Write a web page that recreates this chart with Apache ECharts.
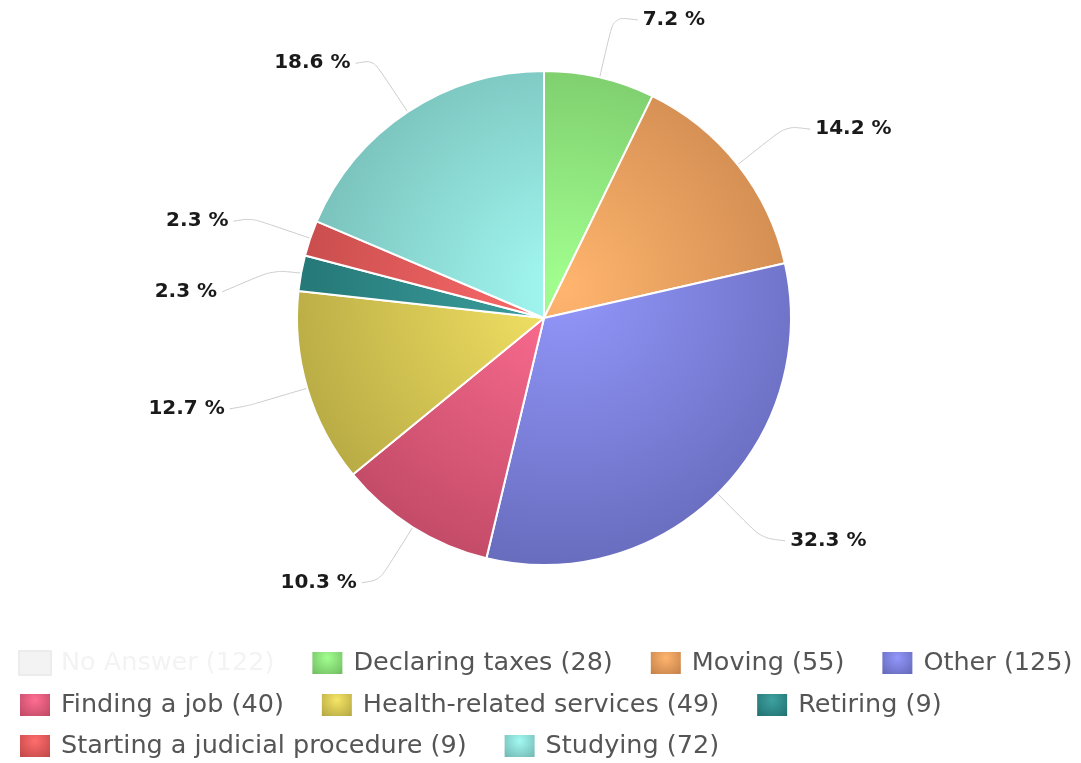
<!DOCTYPE html>
<html>
<head>
<meta charset="utf-8">
<script src="https://cdn.jsdelivr.net/npm/echarts@6/dist/echarts.min.js"></script>
<style>
  html, body { margin: 0; padding: 0; background: #fff; }
  #chart { width: 1081px; height: 763px; }
</style>
</head>
<body>
<div id="chart"></div>
<script>
// Reasons given by respondents (counts)
const categories = [
  'No Answer', 'Declaring taxes', 'Moving', 'Other', 'Finding a job',
  'Health-related services', 'Retiring', 'Starting a judicial procedure', 'Studying'
];
const counts = [122, 28, 55, 125, 40, 49, 9, 9, 72];
const colors = [
  '#7cb5ec', '#90ed7d', '#f7a35c', '#8085e9', '#f15c80',
  '#e4d354', '#2b908f', '#f45b5b', '#91e8e1'
];
// Legend rows
const legendRows = [
  ['No Answer', 'Declaring taxes', 'Moving', 'Other'],
  ['Finding a job', 'Health-related services', 'Retiring'],
  ['Starting a judicial procedure', 'Studying']
];
// "No Answer" is switched off in the legend and left out of the pie
const hidden = ['No Answer'];

function rgb(hex) {
  const n = parseInt(hex.slice(1), 16);
  return [(n >> 16) & 255, (n >> 8) & 255, n & 255];
}
function lighten(hex, amt) {
  return 'rgb(' + rgb(hex).map(v => Math.min(255, Math.round(v + 255 * amt))).join(',') + ')';
}
function scale(hex, k) {
  return 'rgb(' + rgb(hex).map(v => Math.round(v * k)).join(',') + ')';
}

const CX = 544, CY = 318, R = 247;

function stops(col) {
  return [
    { offset: 0, color: lighten(col, 0.07) },
    { offset: 1, color: scale(col, 0.8) }
  ];
}
function sliceFill(col) {
  return { type: 'radial', x: CX + 20, y: CY - 30, r: R * 1.2, global: true, colorStops: stops(col) };
}
function iconFill(col) {
  return { type: 'radial', x: 0.5, y: 0.3, r: 0.8, colorStops: stops(col) };
}

const visibleTotal = counts.reduce((s, v, i) => hidden.includes(categories[i]) ? s : s + v, 0);

const pieData = categories.map((name, i) => ({
  name: name,
  value: counts[i],
  itemStyle: { color: sliceFill(colors[i]) }
}));

const selected = {};
hidden.forEach(n => { selected[n] = false; });

const rowTops = [645, 687, 728];
const legends = legendRows.map((row, r) => ({
  data: row.map(name => ({
    name: name,
    itemStyle: { color: iconFill(colors[categories.indexOf(name)]) }
  })),
  selected: selected,
  orient: 'horizontal',
  left: 13,
  top: rowTops[r],
  itemWidth: 32,
  itemHeight: 24,
  itemGap: 36,
  icon: 'rect',
  inactiveColor: '#f3f3f3',
  inactiveBorderColor: '#ececec',
  textStyle: { fontSize: 25.5, color: '#555', padding: [0, 0, 0, 5], fontFamily: 'DejaVu Sans' },
  formatter: name => name + ' (' + counts[categories.indexOf(name)] + ')'
}));

// Index of "Retiring" among the slices that are shown
const shownNames = categories.filter(n => !hidden.includes(n));
const retiringShown = shownNames.indexOf('Retiring');

// Nudge labels and connector ends; drop "Retiring" clear of its neighbour
function labelNudge(p) {
  const pts = p.labelLinePoints;
  if (!pts) return {};
  const last = pts[pts.length - 1];
  const rightSide = last[0] > CX;
  const dx = rightSide ? 6 : 0;
  const isRetiring = p.dataIndex === retiringShown;
  const dy = isRetiring ? 30 : 3;
  const linePts = pts.map(pt => [pt[0], pt[1]]);
  linePts[linePts.length - 1] = [last[0] + dx, last[1] + dy];
  if (isRetiring) {
    linePts[1] = [pts[0][0] - 28, pts[0][1] - 3];
  }
  return { dx: dx, dy: dy, labelLinePoints: linePts };
}

const chart = echarts.init(document.getElementById('chart'));
chart.setOption({
  animation: false,
  textStyle: { fontFamily: 'DejaVu Sans' },
  legend: legends,
  series: [{
    type: 'pie',
    center: [CX, CY],
    radius: R,
    startAngle: 90,
    clockwise: true,
    data: pieData,
    itemStyle: { borderColor: '#fff', borderWidth: 2 },
    label: {
      show: true,
      fontSize: 20,
      fontWeight: 'bold',
      color: '#1a1a1a',
      fontFamily: 'DejaVu Sans',
      formatter: p => (p.value / visibleTotal * 100).toFixed(1) + ' %'
    },
    labelLine: {
      show: true,
      smooth: 0.3,
      length: 62,
      length2: 18,
      lineStyle: { color: '#cccccc', width: 1 }
    },
    labelLayout: labelNudge
  }]
});
</script>
</body>
</html>
